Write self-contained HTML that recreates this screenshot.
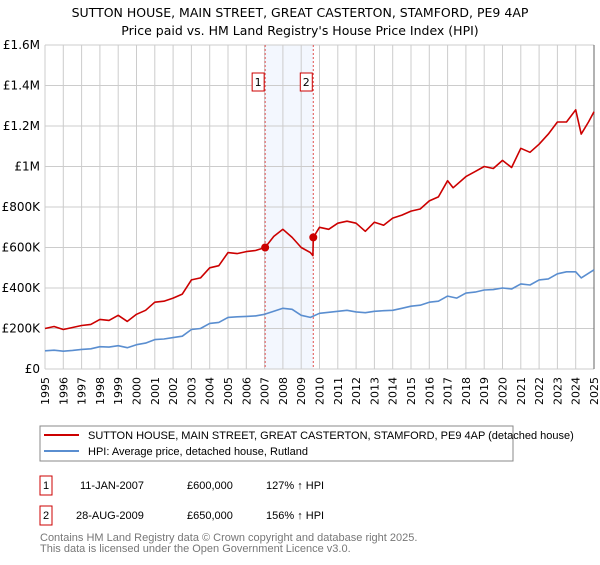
<!DOCTYPE html>
<html><head><meta charset="utf-8"><style>
body{margin:0;background:#fff;font-family:"Liberation Sans","DejaVu Sans",sans-serif;}
svg text{font-family:"DejaVu Sans","Liberation Sans",sans-serif;}
svg text.ls{font-family:"Liberation Sans","DejaVu Sans",sans-serif;}
</style></head><body>
<svg id="chart" width="600" height="560" viewBox="0 0 600 560" xmlns="http://www.w3.org/2000/svg">
<text x="300" y="17" text-anchor="middle" font-size="12.5" fill="#000">SUTTON HOUSE, MAIN STREET, GREAT CASTERTON, STAMFORD, PE9 4AP</text>
<text x="300" y="35" text-anchor="middle" font-size="12.5" fill="#000">Price paid vs. HM Land Registry's House Price Index (HPI)</text>
<g id="plot"></g>
<g>
<rect x="40" y="426" width="473" height="35" fill="#fff" stroke="#888"/>
<line x1="44" y1="435" x2="79" y2="435" stroke="#cc0000" stroke-width="2"/>
<text class="ls" x="88" y="439" font-size="11">SUTTON HOUSE, MAIN STREET, GREAT CASTERTON, STAMFORD, PE9 4AP (detached house)</text>
<line x1="44" y1="451" x2="79" y2="451" stroke="#5a8ed0" stroke-width="2"/>
<text class="ls" x="88" y="455" font-size="11">HPI: Average price, detached house, Rutland</text>
</g>
<g font-size="11">
<rect x="40" y="476" width="12" height="19" fill="#fff" stroke="#cc0000"/>
<text class="ls" x="46" y="489" text-anchor="middle">1</text>
<text class="ls" x="80" y="489">11-JAN-2007</text>
<text class="ls" x="187" y="489">£600,000</text>
<text class="ls" x="266" y="489">127% ↑ HPI</text>
<rect x="40" y="506" width="12" height="19" fill="#fff" stroke="#cc0000"/>
<text class="ls" x="46" y="519" text-anchor="middle">2</text>
<text class="ls" x="76" y="519">28-AUG-2009</text>
<text class="ls" x="187" y="519">£650,000</text>
<text class="ls" x="266" y="519">156% ↑ HPI</text>
</g>
<text class="ls" x="40" y="541" font-size="11" fill="#777">Contains HM Land Registry data © Crown copyright and database right 2025.</text>
<text class="ls" x="40" y="552" font-size="11" fill="#777">This data is licensed under the Open Government Licence v3.0.</text>
</svg>
<script>
const redYears=[1995,1995.5,1996,1996.5,1997,1997.5,1998,1998.5,1999,1999.5,2000,2000.5,2001,2001.5,2002,2002.5,2003,2003.5,2004,2004.5,2005,2005.5,2006,2006.5,2007.03,2007.5,2008,2008.5,2009,2009.5,2009.64,2009.66,2010,2010.5,2011,2011.5,2012,2012.5,2013,2013.5,2014,2014.5,2015,2015.5,2016,2016.5,2017,2017.3,2018,2018.5,2019,2019.5,2020,2020.5,2021,2021.5,2022,2022.5,2023,2023.5,2024,2024.3,2024.7,2025];
const redValues=[200,210,195,205,215,220,245,240,265,235,270,290,330,335,350,370,440,450,500,510,575,570,580,585,600,655,690,650,600,575,560,650,700,690,720,730,720,680,725,710,745,760,780,790,830,850,930,895,950,975,1000,990,1030,995,1090,1070,1110,1160,1220,1220,1280,1160,1220,1270];
const hpiYears=[1995,1995.5,1996,1996.5,1997,1997.5,1998,1998.5,1999,1999.5,2000,2000.5,2001,2001.5,2002,2002.5,2003,2003.5,2004,2004.5,2005,2005.5,2006,2006.5,2007,2007.5,2008,2008.5,2009,2009.5,2010,2010.5,2011,2011.5,2012,2012.5,2013,2013.5,2014,2014.5,2015,2015.5,2016,2016.5,2017,2017.5,2018,2018.5,2019,2019.5,2020,2020.5,2021,2021.5,2022,2022.5,2023,2023.5,2024,2024.3,2025];
const hpiValues=[90,93,88,92,97,100,110,108,115,105,120,128,145,148,155,162,195,200,225,230,255,258,260,262,270,285,300,295,265,255,275,280,285,290,282,278,285,288,290,300,310,315,330,335,360,350,375,380,390,392,400,395,420,415,440,445,470,480,480,450,490];
const yTicks=[0,200,400,600,800,1000,1200,1400,1600];
const yTickLabels=["£0","£200K","£400K","£600K","£800K","£1M","£1.2M","£1.4M","£1.6M"];
const sales=[{n:"1",year:2007.03,value:600},{n:"2",year:2009.66,value:650}];
const X0=45,X1=594,Y0=369,Y1=45;
const xs=y=>X0+(y-1995)/30*(X1-X0);
const ys=v=>Y0-v/1600*(Y0-Y1);
const NS="http://www.w3.org/2000/svg";
const g=document.getElementById('plot');
function mk(t,a){const e=document.createElementNS(NS,t);for(const k in a)e.setAttribute(k,a[k]);g.appendChild(e);return e;}
let sh=mk('rect',{x:xs(sales[0].year),y:Y1,width:xs(sales[1].year)-xs(sales[0].year),height:Y0-Y1,fill:'#f3f7fe'});


for(let yr=1995;yr<=2025;yr++){
 const l=mk('line',{x1:xs(yr),x2:xs(yr),y1:Y1,y2:Y0,stroke:'#cccccc','stroke-width':1});
 
 
 const t=mk('text',{x:0,y:0,'font-size':11,'text-anchor':'end',transform:`translate(${xs(yr)+4},377) rotate(-90)`});
 t.textContent=String(yr);
 
 
}
yTicks.forEach((v,i)=>{
 const l=mk('line',{x1:X0,x2:X1,y1:ys(v),y2:ys(v),stroke:'#cccccc','stroke-width':1});
 
 
 const t=mk('text',{x:X0-5,y:ys(v)+4,'font-size':12,'text-anchor':'end'});
 t.textContent=yTickLabels[i];
 
 
});
const rb=mk('line',{x1:X1,x2:X1,y1:Y1,y2:Y0,stroke:'#666','stroke-width':1});


sales.forEach(s=>{
 const l=mk('line',{x1:xs(s.year),x2:xs(s.year),y1:Y1,y2:Y0,stroke:'#e05050','stroke-width':1,'stroke-dasharray':'2,2'});
 
 
});
function path(xa,va,col,name){
 const d=xa.map((x,i)=>(i?'L':'M')+xs(x).toFixed(1)+','+ys(va[i]).toFixed(1)).join('');
 const p=mk('path',{d:d,fill:'none',stroke:col,'stroke-width':1.6,'stroke-linejoin':'round'});
 
 
}
path(hpiYears,hpiValues,'#5a8ed0','hpi-line');
path(redYears,redValues,'#cc0000','property-price-line');
sales.forEach(s=>{
 const c=mk('circle',{cx:xs(s.year),cy:ys(s.value),r:4,fill:'#cc0000'});
 
 
 const r=mk('rect',{x:xs(s.year)-13,y:73,width:12,height:18,fill:'#fff',stroke:'#cc0000'});
 
 
 const t=mk('text',{x:xs(s.year)-7,y:86,'font-size':11,'text-anchor':'middle'});
 t.textContent=s.n;
 
 
});
</script>
</body></html>
